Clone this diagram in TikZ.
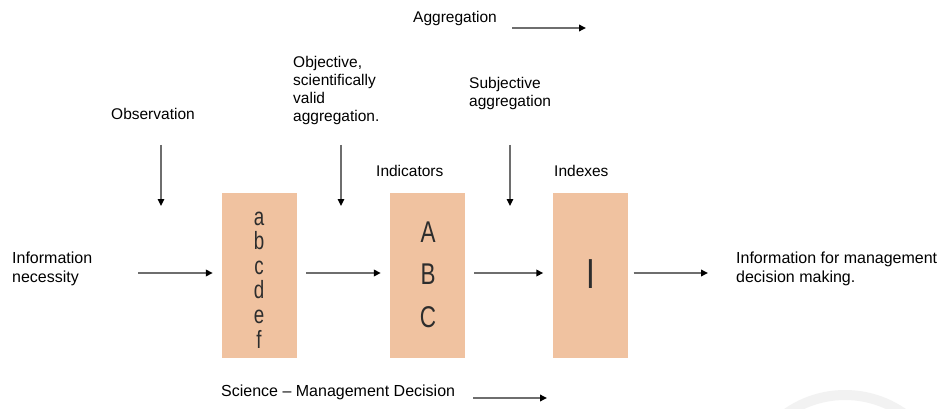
\documentclass[tikz,border=0pt]{standalone}
\usepackage{fontspec}
\setmainfont{Liberation Sans}
\newfontfamily\condfont[FakeStretch=0.75]{Liberation Sans}
\usetikzlibrary{arrows.meta}
\definecolor{boxfill}{RGB}{240,194,160}
\definecolor{arrowgray}{RGB}{110,110,110}
\definecolor{lettergray}{RGB}{45,45,45}
\definecolor{wmgray}{RGB}{242,242,242}
\begin{document}
\begin{tikzpicture}[x=1pt,y=-1pt,
  lbl/.style={font=\fontsize{16}{19}\selectfont, align=left, inner sep=0pt, anchor=base west},
  toplbl/.style={font=\fontsize{15.5}{18.3}\selectfont, align=left, inner sep=0pt, anchor=base west},
  panel/.style={fill=boxfill, draw=none, minimum width=75pt, minimum height=165pt, inner sep=0pt},
  letters/.style={font=\condfont\fontsize{25}{24.6}\selectfont, text=lettergray, align=center, inner sep=0pt, anchor=base},
  flow/.style={draw=arrowgray, line width=2pt, -{Triangle[length=7pt,width=6.5pt,color=black]}}]
\useasboundingbox (0,0) rectangle (940,409);
\fill[white] (0,0) rectangle (940,409);
\begin{scope}
\clip (0,0) rectangle (940,409);
\draw[wmgray, line width=10pt] (845,497) circle[radius=102];
\end{scope}

% boxes
\node[panel] (b1) at (259.5,275.5) {};
\node[panel] (b2) at (427.5,275.5) {};
\node[panel] (b3) at (590,275.5) {};

% box contents (anchor base = baseline of the last line)
\node[letters] (l1) at (259,348) {a\\b\\c\\d\\e\\f};
\node[letters, font=\condfont\fontsize{30}{42.5}\selectfont] (l2) at (428,327) {A\\B\\C};
\node[letters, font=\condfont\fontsize{42}{42}\selectfont] (l3) at (591,288) {I};

% labels (anchor base west = baseline of the last line)
\node[toplbl] (agg) at (413,23) {Aggregation};
\node[toplbl] (obj) at (293,122) {Objective,\\scientifically\\valid\\aggregation.};
\node[toplbl] (subj) at (469,107) {Subjective\\aggregation};
\node[toplbl] (obs) at (111,120) {Observation};
\node[toplbl] (ind) at (376,177) {Indicators};
\node[toplbl] (idx) at (554,177) {Indexes};
\node[lbl] (need) at (12,282) {Information\\necessity};
\node[lbl] (out) at (736,282) {Information for management\\decision making.};
\node[lbl] (sci) at (221,396) {Science -- Management Decision};

% free arrow ends
\coordinate (aggA) at (512,28);
\coordinate (aggB) at (586,28);
\coordinate (sciA) at (473,398);
\coordinate (sciB) at (547,398);
\coordinate (obsA) at (161,145);
\coordinate (obsB) at (161,206);
\coordinate (objA) at (341,145);
\coordinate (objB) at (341,206);
\coordinate (subA) at (510,145);
\coordinate (subB) at (510,206);
\coordinate (needA) at (138,273);
\coordinate (outB) at (708,273);

% arrows
\draw[flow] (aggA) -- (aggB);
\draw[flow] (sciA) -- (sciB);
\draw[flow, line width=1.4pt] (obsA) -- (obsB);
\draw[flow, line width=1.4pt] (objA) -- (objB);
\draw[flow, line width=1.4pt] (subA) -- (subB);
\draw[flow] (needA) -- ([xshift=-9pt]b1.west |- needA);
\draw[flow] ([xshift=9pt]b1.east |- needA) -- ([xshift=-9pt]b2.west |- needA);
\draw[flow] ([xshift=9pt]b2.east |- needA) -- ([xshift=-9pt]b3.west |- needA);
\draw[flow] ([xshift=6pt]b3.east |- needA) -- (outB);
\end{tikzpicture}
\end{document}
